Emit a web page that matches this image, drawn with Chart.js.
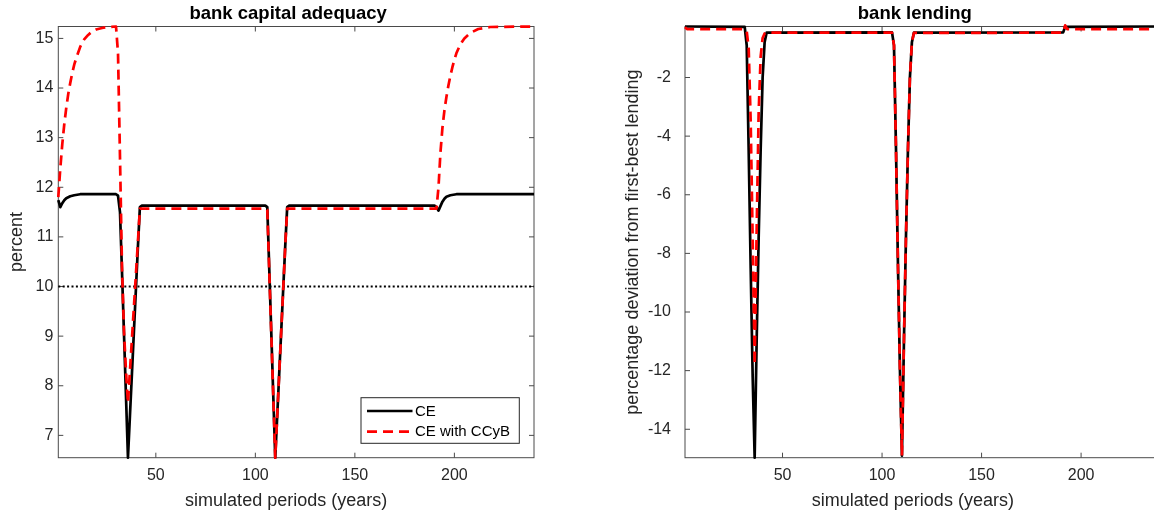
<!DOCTYPE html>
<html><head><meta charset="utf-8">
<script src="https://cdn.jsdelivr.net/npm/chart.js@4.4.0/dist/chart.umd.min.js"></script>
<style>
html,body{margin:0;padding:0;background:#fff;overflow:hidden;width:1154px;height:514px;position:relative;}
#c1{position:absolute;left:0;top:0;}
#c2{position:absolute;left:620px;top:0;}
</style></head><body>
<canvas id="c1" style="width:600px;height:514px"></canvas>
<canvas id="c2" style="width:560px;height:514px"></canvas>
<script>
// ---------- data ----------
const xMin = 1, xMax = 240;
const xTicks = [50, 100, 150, 200];
const capTicks = [7, 8, 9, 10, 11, 12, 13, 14, 15];
const capMin = 6.55, capMax = 15.24;
const lendTicks = [-14, -12, -10, -8, -6, -4, -2];
const lendMin = -14.97, lendMax = -0.26;
const threshold = 10;
const thresholdPeriods = [1, 240];

const capCEPeriods = [1,2,3,4,5,6,7,9,12,30,31,32,33,34,35,36,37,38,39,40,41,42,43,105,106,107,108,109,110,111,112,113,114,115,116,117,190,191,192,193,194,195,196,198,201,240];
const capCEValues  = [11.74,11.6,11.68,11.74,11.78,11.8,11.82,11.84,11.86,11.86,11.83,11.5,10.3,9.05,7.8,6.55,7.4,8.25,9.1,9.95,10.8,11.6,11.63,11.63,11.6,10.34,9.08,7.81,6.55,7.4,8.25,9.1,9.95,10.8,11.6,11.63,11.63,11.6,11.53,11.62,11.71,11.77,11.81,11.84,11.86,11.86];

const capCCyBPeriods = [1,2,3,4,5,6,7,8,9,10,12,14,16,18,20,23,26,30,31,32,33,34,35,36,37,38,39,40,41,42,105,106,107,108,109,110,111,112,113,114,115,116,191,192,193,194,195,196,197,198,199,200,201,203,205,208,212,218,240];
const capCCyBValues  = [11.8,12.38,12.87,13.27,13.6,13.88,14.1,14.3,14.47,14.6,14.83,14.98,15.07,15.14,15.18,15.21,15.23,15.24,14.7,12.6,10.4,9.1,8.3,7.65,8.3,8.95,9.6,10.25,10.9,11.57,11.57,11.55,10.3,9.05,7.8,6.55,7.4,8.25,9.1,9.95,10.8,11.57,11.57,11.99,12.7,13.2,13.55,13.82,14.05,14.25,14.42,14.57,14.7,14.88,15.0,15.11,15.19,15.23,15.24];

const lendCEPeriods = [1,31,32,33,34,35,36,37,38,39,40,41,42,105,106,107,108,109,110,111,112,113,114,115,116,191,192,240];
const lendCEValues  = [-0.26,-0.27,-0.9,-4.5,-8.5,-12.2,-14.97,-11,-7.5,-4.5,-2.0,-0.8,-0.47,-0.46,-0.9,-4.4,-8.4,-12,-14.9,-11,-7.5,-4.5,-2.0,-0.8,-0.47,-0.46,-0.27,-0.26];

const lendCCyBPeriods = [1,2,31,32,33,34,35,36,37,38,39,40,41,42,105,106,107,108,109,110,111,112,113,114,115,116,191,192,193,240];
const lendCCyBValues  = [-0.28,-0.35,-0.35,-0.42,-1.0,-3.5,-7.5,-11.8,-7.2,-3.2,-1.3,-0.65,-0.5,-0.47,-0.47,-0.9,-4.4,-8.4,-12,-14.9,-11,-7.5,-4.5,-2.0,-0.8,-0.48,-0.47,-0.22,-0.35,-0.35];

const labelCE = 'CE', labelCCyB = 'CE with CCyB';

// ---------- helpers ----------
const FONT = '"Liberation Sans", Arial, Helvetica, sans-serif';
const TXT = '#262626';
function pts(px, vy) { return px.map((p, i) => ({ x: p, y: vy[i] })); }

function decorPlugin(cfg) {
  return {
    id: 'decor_' + cfg.key,
    beforeDatasetsDraw(chart) {
      const { ctx, chartArea: a, scales } = chart;
      ctx.save();
      ctx.strokeStyle = '#4a4a4a';
      ctx.lineWidth = 1;
      ctx.strokeRect(a.left, a.top, a.right - a.left, a.bottom - a.top);
      const tl = 5;
      ctx.beginPath();
      scales.x.ticks.forEach(t => {
        const px = scales.x.getPixelForValue(t.value);
        ctx.moveTo(px, a.bottom); ctx.lineTo(px, a.bottom - tl);
        ctx.moveTo(px, a.top); ctx.lineTo(px, a.top + tl);
      });
      scales.y.ticks.forEach(t => {
        const py = scales.y.getPixelForValue(t.value);
        ctx.moveTo(a.left, py); ctx.lineTo(a.left + tl, py);
        ctx.moveTo(a.right, py); ctx.lineTo(a.right - tl, py);
      });
      ctx.stroke();
      ctx.restore();
    },
    afterDraw(chart) {
      const { ctx, chartArea: a } = chart;
      const cx = (a.left + a.right) / 2;
      ctx.save();
      ctx.fillStyle = '#000';
      ctx.font = 'bold 18.5px ' + FONT;
      ctx.textAlign = 'center';
      ctx.textBaseline = 'alphabetic';
      ctx.fillText(cfg.title, cx - 8, 19);
      ctx.fillStyle = TXT;
      ctx.font = '18px ' + FONT;
      ctx.fillText(cfg.xTitle, cx - 10, 505.5);
      ctx.translate(cfg.yTitleX, (a.top + a.bottom) / 2);
      ctx.rotate(-Math.PI / 2);
      ctx.textBaseline = 'middle';
      ctx.fillText(cfg.yTitle, 0, 0);
      ctx.restore();
    }
  };
}

const legendPlugin = {
  id: 'insideLegend',
  afterDatasetsDraw(chart) {
    const { ctx } = chart;
    const box = { l: 361, t: 397.7, r: 519.3, b: 443.3 };
    ctx.save();
    ctx.fillStyle = '#fff';
    ctx.fillRect(box.l, box.t, box.r - box.l, box.b - box.t);
    ctx.strokeStyle = '#262626';
    ctx.lineWidth = 1;
    ctx.strokeRect(box.l, box.t, box.r - box.l, box.b - box.t);
    const rows = [chart.data.datasets[0], chart.data.datasets[1]];
    const ys = [411, 431.7];
    rows.forEach((ds, i) => {
      ctx.strokeStyle = ds.borderColor;
      ctx.lineWidth = ds.borderWidth;
      ctx.setLineDash(ds.borderDash || []);
      ctx.beginPath();
      ctx.moveTo(367, ys[i]); ctx.lineTo(412.5, ys[i]);
      ctx.stroke();
      ctx.setLineDash([]);
      ctx.fillStyle = '#000';
      ctx.font = '15px ' + FONT;
      ctx.textAlign = 'left';
      ctx.textBaseline = 'middle';
      ctx.fillText(ds.label, 415, ys[i] + 0.5);
    });
    ctx.restore();
  }
};

function scalesCfg(yMin, yMax, yTicks, yWidth, yPad) {
  return {
    x: {
      type: 'linear', min: xMin, max: xMax,
      afterBuildTicks: s => { s.ticks = xTicks.map(v => ({ value: v })); },
      afterFit: s => { s.height = 56.3; },
      ticks: { font: { family: FONT, size: 16 }, color: TXT, padding: 8, maxRotation: 0, autoSkip: false, callback: v => String(v) },
      grid: { display: false, drawTicks: false }, border: { display: false }
    },
    y: {
      type: 'linear', min: yMin, max: yMax,
      afterBuildTicks: s => { s.ticks = yTicks.map(v => ({ value: v })); },
      afterFit: s => { s.width = yWidth; },
      ticks: { font: { family: FONT, size: 16 }, color: TXT, padding: yPad, autoSkip: false, callback: v => String(v) },
      grid: { display: false, drawTicks: false }, border: { display: false }
    }
  };
}

const common = {
  responsive: false, animation: false,
  plugins: { legend: { display: false }, tooltip: { enabled: false }, title: { display: false } },
  elements: { point: { radius: 0 }, line: { tension: 0, borderCapStyle: 'butt', borderJoinStyle: 'round' } }
};

// ---------- left chart ----------
new Chart(document.getElementById('c1'), {
  type: 'line',
  data: {
    datasets: [
      { label: labelCE, data: pts(capCEPeriods, capCEValues), borderColor: '#000000', borderWidth: 2.7, order: 1, clip: false },
      { label: labelCCyB, data: pts(capCCyBPeriods, capCCyBValues), borderColor: '#ff0000', borderWidth: 2.7, borderDash: [10, 6], order: 0, clip: false },
      { label: 'threshold', data: pts(thresholdPeriods, thresholdPeriods.map(() => threshold)), borderColor: '#000000', borderWidth: 2, borderDash: [2, 2.4], order: 2, clip: false }
    ]
  },
  options: Object.assign({}, common, {
    layout: { padding: { left: 0, right: 66, top: 26.5, bottom: 0 } },
    scales: scalesCfg(capMin, capMax, capTicks, 58.3, 5)
  }),
  plugins: [decorPlugin({ key: 'l', title: 'bank capital adequacy', xTitle: 'simulated periods (years)', yTitle: 'percent', yTitleX: 17 }), legendPlugin]
});

// ---------- right chart ----------
new Chart(document.getElementById('c2'), {
  type: 'line',
  data: {
    datasets: [
      { label: labelCE, data: pts(lendCEPeriods, lendCEValues), borderColor: '#000000', borderWidth: 2.7, order: 1, clip: false },
      { label: labelCCyB, data: pts(lendCCyBPeriods, lendCCyBValues), borderColor: '#ff0000', borderWidth: 2.7, borderDash: [10, 6], order: 0, clip: false }
    ]
  },
  options: Object.assign({}, common, {
    layout: { padding: { left: 0, right: 19.3, top: 26.5, bottom: 0 } },
    scales: scalesCfg(lendMin, lendMax, lendTicks, 65, 14)
  }),
  plugins: [decorPlugin({ key: 'r', title: 'bank lending', xTitle: 'simulated periods (years)', yTitle: 'percentage deviation from first-best lending', yTitleX: 13 })]
});
</script>
</body></html>
